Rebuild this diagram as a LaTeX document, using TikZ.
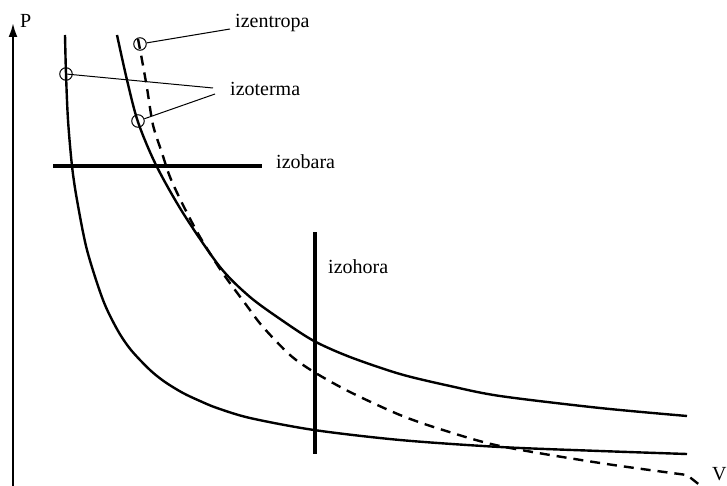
\documentclass[tikz,border=0pt]{standalone}
\usepackage{fontspec}
\setmainfont{Liberation Serif}
\usetikzlibrary{arrows.meta}
\begin{document}
\begin{tikzpicture}[x=1pt,y=-1pt,
  lbl/.style={anchor=west,inner sep=0pt,font=\fontsize{20}{24}\selectfont},
  ring/.style={draw,circle,line width=1pt,minimum size=12.5pt,inner sep=0pt},
  curve/.style={line width=2.4pt},
  leader/.style={line width=1pt},
  heavy/.style={line width=4pt}]
\useasboundingbox (0,0) rectangle (727,486);
% axis
\coordinate (axbot) at (13,490);
\coordinate (axtop) at (13,23);
\draw[line width=2.2pt,-{Latex[length=14pt,width=9pt]}] (axbot) -- (axtop);
\node[lbl] (P) at (20,21) {P};
\node[lbl] (V) at (712,474) {V};
% isotherms
\draw[curve] plot[smooth,tension=0.5] coordinates {(65,35) (66,74) (68,120) (72,166) (77,200) (87,250) (103,300) (117.5,330) (131,350) (150,370) (165,382) (183,393) (200,401) (217,408) (250,418) (314,430) (400,440) (500,447) (600,451) (687,454)};
\draw[curve] plot[smooth,tension=0.5] coordinates {(117,35) (127,80) (138,122) (156,165) (183,213) (220,267) (250,297) (283,321) (314,341) (350,357) (400,374) (450,386) (500,396) (600,408) (687,416)};
% isentrope
\draw[curve,dash pattern=on 10pt off 7pt] plot[smooth,tension=0.5] coordinates {(138,39) (142,60) (147,88) (153,125) (162,153) (170,177) (183,205) (200,237) (222,272) (247,306) (263,327) (290,355) (314,372) (350,392) (400,415) (443,430) (500,446) (600,463) (687,475)} -- (706,490);
% isobar / isochore
\draw[heavy] (53,166) -- (262,166);
\draw[heavy] (315,232) -- (315,454);
% labels
\node[lbl] (izentropa) at (235,23) {izentropa};
\node[lbl] (izoterma) at (230,89) {izoterma};
\node[lbl] (izobara) at (276,162) {izobara};
\node[lbl] (izohora) at (328,267) {izohora};
% rings and leaders
\node[ring] (c1) at (140,44) {};
\node[ring] (c2) at (66,74) {};
\node[ring] (c3) at (138,121) {};
\coordinate (e1) at (230,29);
\coordinate (e2) at (213,88);
\coordinate (e3) at (215,94);
\draw[leader] (c1) -- (e1);
\draw[leader] (c2.center) -- (e2);
\draw[leader] (c3) -- (e3);
\end{tikzpicture}
\end{document}
